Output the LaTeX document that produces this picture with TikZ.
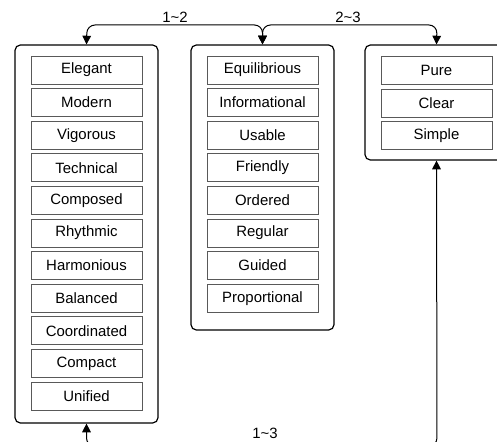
\documentclass[tikz,border=0pt]{standalone}
\usepackage{fontspec}
\setmainfont{Liberation Sans}
\usetikzlibrary{arrows.meta}
\begin{document}
\begin{tikzpicture}[x=0.75pt,y=-0.75pt,
  group/.style={draw=black, line width=0.9pt, rounded corners=4pt, minimum width=107.25pt, inner sep=0pt},
  item/.style={draw=black!65, line width=0.7pt, minimum width=83.25pt, minimum height=21pt, inner sep=0pt, font=\fontsize{11.2}{12}\selectfont},
  link/.style={line width=0.75pt, rounded corners=6pt, {Triangle[length=6.5pt,width=6.5pt]}-{Triangle[length=6.5pt,width=6.5pt]}},
  lab/.style={font=\fontsize{11.2}{12}\selectfont, inner sep=1pt}]
\useasboundingbox (0,0) rectangle (497,442);
\node[group, minimum height=283.5pt] (g1) at (86.5,234) {};
\node[group, minimum height=213.75pt] (g2) at (262.5,187.5) {};
\node[group, minimum height=86.25pt] (g3) at (436.5,102.5) {};
\foreach \t [count=\i from 0] in {Elegant,Modern,Vigorous,Technical,Composed,Rhythmic,Harmonious,Balanced,Coordinated,Compact,Unified}
  \node[item] (a\i) at (86.5,70+32.6*\i) {\t};
\foreach \t [count=\i from 0] in {Equilibrious,Informational,Usable,Friendly,Ordered,Regular,Guided,Proportional}
  \node[item] (b\i) at (262.5,70+32.6*\i) {\t};
\foreach \t [count=\i from 0] in {Pure,Clear,Simple}
  \node[item] (c\i) at (436.5,70.5+32.6*\i) {\t};
\coordinate (t1) at (87,25);
\coordinate (t3) at (437,25);
\coordinate (bb) at (437,446);
\draw[link] (g1.north) -- (t1) -| (g2.north);
\draw[link] (g2.north) |- (t3) -- (g3.north);
\draw[link] (g3.south) -- (bb) -| (g1.south);
\node[lab, anchor=south] (l12) at (175,24) {1\textasciitilde 2};
\node[lab, anchor=south] (l23) at (348,24) {2\textasciitilde 3};
\node[lab] (l13) at (265,433) {1\textasciitilde 3};
\end{tikzpicture}
\end{document}
